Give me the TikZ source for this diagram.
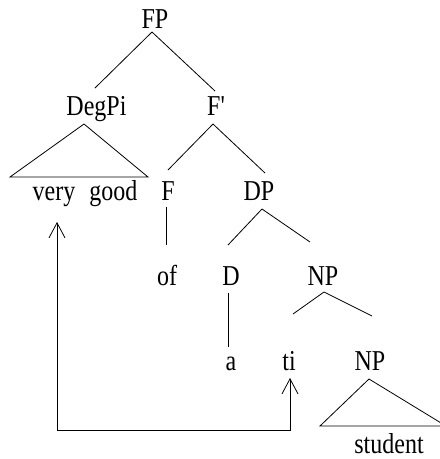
\documentclass[tikz,border=0pt]{standalone}
\usepackage{fontspec}
\setmainfont{Liberation Serif}[Ligatures=TeXOff]
\usetikzlibrary{arrows.meta}
\newcommand{\Tx}[1]{\scalebox{1}[1.2]{#1}}
\begin{document}
\begin{tikzpicture}[x=1pt,y=-1pt,line width=0.8pt,
  lbl/.style={anchor=base,inner sep=0pt,font=\fontsize{24}{24}\selectfont},
  br/.style={line width=0.8pt},
  mv/.style={{Straight Barb[length=15pt,width=16pt]}-{Straight Barb[length=15pt,width=16pt]}}]
\useasboundingbox (0,0) rectangle (440,459);
% labels
\node[lbl] (fp) at (155,28) {\Tx{FP}};
\node[lbl] (degpi) at (96.5,115) {\Tx{DegPi}};
\node[lbl] (fbar) at (216,115) {\Tx{F'}};
\node[lbl] (vg) at (85,200) {\Tx{very\hspace{14pt}good}};
\node[lbl] (f) at (168,200) {\Tx{F}};
\node[lbl] (dp) at (259,200) {\Tx{DP}};
\node[lbl] (of) at (167,285) {\Tx{of}};
\node[lbl] (d) at (231,285) {\Tx{D}};
\node[lbl] (np1) at (323,285) {\Tx{NP}};
\node[lbl] (a) at (231,370) {\Tx{a}};
\node[lbl] (ti) at (289,370) {\Tx{ti}};
\node[lbl] (np2) at (370,370) {\Tx{NP}};
\node[lbl] (stu) at (389,453) {\Tx{student}};
% branch points
\coordinate (fpB) at (152,32);
\coordinate (degT) at (95,88);
\coordinate (fbT) at (215,91);
\coordinate (degB) at (84,124);
\coordinate (degL) at (10,177);
\coordinate (degR) at (148,177);
\coordinate (fbB) at (213,124);
\coordinate (fT) at (168,170);
\coordinate (dpT) at (265,173);
\coordinate (fB) at (166,207);
\coordinate (ofT) at (166,245);
\coordinate (dpB) at (262,209);
\coordinate (dT) at (228,245);
\coordinate (npT) at (310,242);
\coordinate (dB) at (228,293);
\coordinate (aT) at (228,347);
\coordinate (npB) at (324,292);
\coordinate (npL) at (293,314);
\coordinate (npR) at (372,316);
\coordinate (np2B) at (369,379);
\coordinate (np2L) at (320,426);
\coordinate (np2R) at (446,426);
\coordinate (vgA) at (57,222);
\coordinate (tiA) at (290,378);
\coordinate (c1) at (57,430);
\coordinate (c2) at (290,430);
% edges
\draw[br] (fpB) -- (degT);
\draw[br] (fpB) -- (fbT);
\draw[br] (degB) -- (degL) -- (degR) -- cycle;
\draw[br] (fbB) -- (fT);
\draw[br] (fbB) -- (dpT);
\draw[br] (fB) -- (ofT);
\draw[br] (dpB) -- (dT);
\draw[br] (dpB) -- (npT);
\draw[br] (dB) -- (aT);
\draw[br] (npB) -- (npL);
\draw[br] (npB) -- (npR);
\begin{scope}
\clip (0,0) rectangle (440,459);
\draw[br] (np2B) -- (np2L) -- (np2R) -- cycle;
\end{scope}
\draw[br,mv] (vgA) -- (c1) -- (c2) -- (tiA);
\end{tikzpicture}
\end{document}
